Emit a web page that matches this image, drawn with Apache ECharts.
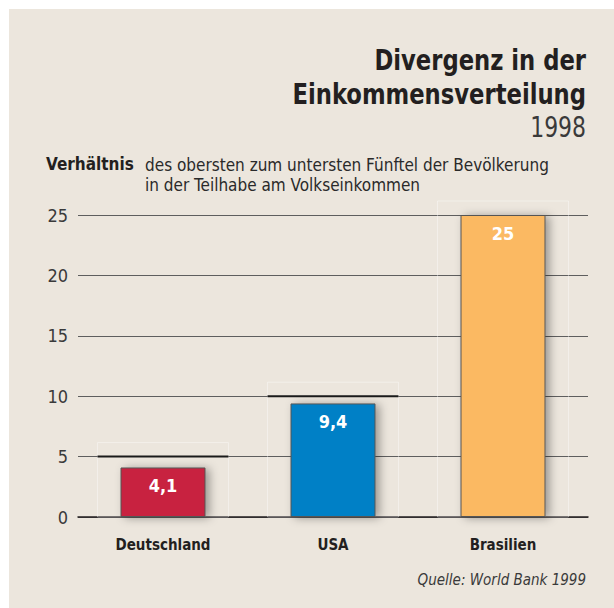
<!DOCTYPE html>
<html lang="de">
<head>
<meta charset="utf-8">
<script src="https://cdn.jsdelivr.net/npm/echarts@6/dist/echarts.min.js"></script>
<title>Divergenz in der Einkommensverteilung</title>
<style>
  html, body { margin: 0; padding: 0; background: #fff; }
  #chart { width: 614px; height: 608px; }
</style>
</head>
<body>
<div id="chart"></div>
<script>
// data
var countries = ['Deutschland', 'USA', 'Brasilien'];
var ratios = [4.1, 9.4, 25];
var ratioLabels = ['4,1', '9,4', '25'];
var barColors = ['#c8223f', '#0080c6', '#fbb962'];
var refLevels = [5, 10, 25];   // next gridline above each bar
var yTicks = [0, 5, 10, 15, 20, 25];

var FONT = '"Liberation Sans Narrow", "DejaVu Sans Condensed", "Roboto Condensed", sans-serif';

var chart = echarts.init(document.getElementById('chart'), null, { renderer: 'svg' });

// right-aligned, horizontally squeezed heading text
function heading(text, y, font, fill) {
  return {
    type: 'text', x: 586, y: y, scaleX: 0.87,
    style: { text: text, font: font, fill: fill, align: 'right', verticalAlign: 'top' }
  };
}

var option = {
  backgroundColor: '#ffffff',
  animation: false,
  graphic: [
    { type: 'rect', z: -10, shape: { x: 9, y: 9, width: 605, height: 599 }, style: { fill: '#ece6dd' } },
    heading('Divergenz in der', 45, 'bold 29px ' + FONT, '#231f20'),
    heading('Einkommensverteilung', 79, 'bold 29px ' + FONT, '#231f20'),
    heading('1998', 113, '28px ' + FONT, '#3a3a3a'),
    { type: 'text', left: 46, top: 155, style: { text: 'Verhältnis', font: 'bold 17px ' + FONT, fill: '#231f20' } },
    { type: 'text', left: 145, top: 155, style: { text: 'des obersten zum untersten Fünftel der Bevölkerung\nin der Teilhabe am Volkseinkommen', font: '17px ' + FONT, fill: '#2a2a2a', lineHeight: 20 } },
    { type: 'text', right: 28, top: 572, style: { text: 'Quelle: World Bank 1999', font: 'italic 15px ' + FONT, fill: '#3a3a3a', align: 'right' } }
  ],
  grid: { left: 78, right: 26, top: 215, bottom: 91 },
  xAxis: {
    type: 'category',
    data: countries,
    axisTick: { show: false },
    axisLine: { lineStyle: { color: '#231f20', width: 1.5 } },
    axisLabel: { margin: 20, color: '#231f20', fontFamily: FONT, fontWeight: 'bold', fontSize: 15 }
  },
  yAxis: {
    type: 'value',
    min: yTicks[0],
    max: yTicks[yTicks.length - 1],
    interval: 5,
    axisLine: { show: false },
    axisTick: { show: false },
    axisLabel: { margin: 10, color: '#3a3a3a', fontFamily: FONT, fontSize: 18 },
    splitLine: { lineStyle: { color: '#5e5e5e', width: 1 } }
  },
  series: [
    {
      type: 'custom',
      z: 1,
      silent: true,
      data: countries.map(function (c, i) { return [i, refLevels[i], ratios[i]]; }),
      renderItem: function (params, api) {
        var idx = api.value(0), level = api.value(1), val = api.value(2);
        var band = api.size([1, 0])[0];
        var w = band * 0.77;
        var top = api.coord([idx, level]);
        var base = api.coord([idx, 0]);
        var children = [{
          type: 'rect',
          shape: { x: top[0] - w / 2, y: top[1] - 14, width: w, height: base[1] - top[1] + 14 },
          style: { fill: 'none', stroke: 'rgba(255,255,255,0.4)', lineWidth: 1 }
        }];
        if (level > val) {
          children.push({
            type: 'line',
            shape: { x1: top[0] - w / 2, y1: top[1], x2: top[0] + w / 2, y2: top[1] },
            style: { stroke: '#1a1a1a', lineWidth: 2 }
          });
        }
        return { type: 'group', children: children };
      }
    },
    {
      type: 'bar',
      z: 2,
      barWidth: '50%',
      data: ratios.map(function (v, i) {
        return {
          value: v,
          itemStyle: {
            color: barColors[i],
            borderColor: '#555555',
            borderWidth: 1,
            shadowBlur: 10,
            shadowColor: 'rgba(0,0,0,0.35)',
            shadowOffsetX: 4,
            shadowOffsetY: 1
          }
        };
      }),
      label: {
        show: true,
        position: 'insideTop',
        distance: 9,
        color: '#ffffff',
        fontFamily: FONT,
        fontWeight: 'bold',
        fontSize: 18,
        formatter: function (p) { return ratioLabels[p.dataIndex]; }
      }
    }
  ]
};

chart.setOption(option);
</script>
</body>
</html>
